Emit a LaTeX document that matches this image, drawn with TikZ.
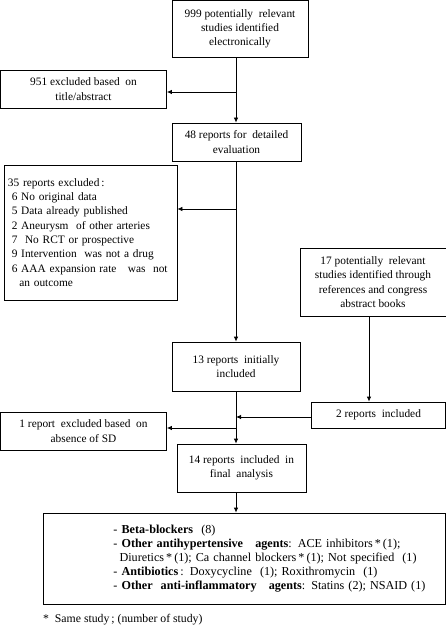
\documentclass[tikz,border=0pt]{standalone}
\usepackage{fontspec}
\setmainfont{Liberation Serif}
\usetikzlibrary{arrows.meta}
\begin{document}
\begin{tikzpicture}[x=1bp,y=-1bp,
  box/.style={draw, line width=0.8bp, inner sep=0pt, align=center,
    font=\fontsize{11.4}{14.4}\selectfont},
  lbox/.style={box, align=left},
  conn/.style={line width=0.8bp},
  arr/.style={conn, -{Latex[length=5bp,width=4.5bp]}}]
\useasboundingbox (0,0) rectangle (446,630);
\coordinate (m) at (236,0);
\node[box, minimum width=136bp, minimum height=56.5bp] (A) at (240,28.75) {999 potentially\ \ relevant\\studies identified\\electronically};
\node[box, minimum width=166bp, minimum height=38bp] (B) at (83.5,89) {951 excluded based\ \ on\\title/abstract};
\node[box, minimum width=129bp, minimum height=38bp] (C) at (236.5,142) {48 reports for\ \ detailed\\evaluation};
\node[lbox, inner xsep=4bp, minimum height=135bp, text width=165bp] (D) at (90.5,232.5) {35 reports\ excluded\,:\\
\ 6 No original data\\
\ 5 Data already published\\
\ 2 Aneurysm\ \ of other arteries\\
\ 7\ \ No RCT or prospective\\
\ 9 Intervention\ \ was not a drug\\
\ 6 AAA expansion rate\ \ \ was\ \ not\\
\ \ \ an outcome};
\node[box, minimum width=146bp, minimum height=68bp] (E) at (373,282) {17 potentially\ \ relevant\\studies identified through\\references and congress\\abstract books};
\node[box, minimum width=128bp, minimum height=49bp] (F) at (236,366.5) {13 reports\ \ initially\\included};
\node[box, minimum width=134bp, minimum height=26bp] (G) at (378.5,415) {2 reports\ \ included};
\node[box, minimum width=166bp, minimum height=38bp] (H) at (83.5,431) {1 report\ \ excluded based\ \ on\\absence of SD};
\node[box, minimum width=129bp, minimum height=48bp] (I) at (241.5,468) {14 reports\ \ included\ \ in\\final\ \ analysis};
\node[lbox, minimum width=402bp, minimum height=91bp, text width=402bp, font=\fontsize{12.2}{14.2}\selectfont] (J) at (244.5,558.5) {\hspace*{70bp}- \textbf{Beta-blockers}\ \ (8)\\
\hspace*{70bp}- \textbf{Other antihypertensive\ \ \ agents}: ACE inhibitors\,*\,(1);\\
\hspace*{70bp}\ \,Diuretics\,*\,(1); Ca channel blockers\,*\,(1); Not specified\ \ (1)\\
\hspace*{70bp}- \textbf{Antibiotics}\,: Doxycycline\ \ (1); Roxithromycin\ \ (1)\\
\hspace*{70bp}- \textbf{Other\ \ anti-inflammatory\ \ \ agents}: Statins (2); NSAID (1)};
\node[anchor=west, inner sep=0pt, font=\fontsize{11.8}{14.4}\selectfont] (N) at (43,620) {*\ \ Same study\,; (number of study)};
% connectors
\coordinate (b1) at (236,92);
\coordinate (b2) at (236,209);
\coordinate (b3) at (236,417);
\coordinate (b4) at (236,428);
\draw[arr] (A.south -| m) -- (C.north -| m);
\draw[arr] (b1) -- (b1 -| B.east);
\draw[arr] (C.south -| m) -- (F.north -| m);
\draw[arr] (b2) -- (b2 -| D.east);
\coordinate (e) at (369,0);
\draw[arr] (E.south -| e) -- (G.north -| e);
\draw[arr] (b3 -| G.west) -- (b3);
\draw[arr] (F.south -| m) -- (I.north -| m);
\draw[arr] (b4) -- (b4 -| H.east);
\draw[arr] (I.south -| m) -- (J.north -| m);
\end{tikzpicture}
\end{document}
